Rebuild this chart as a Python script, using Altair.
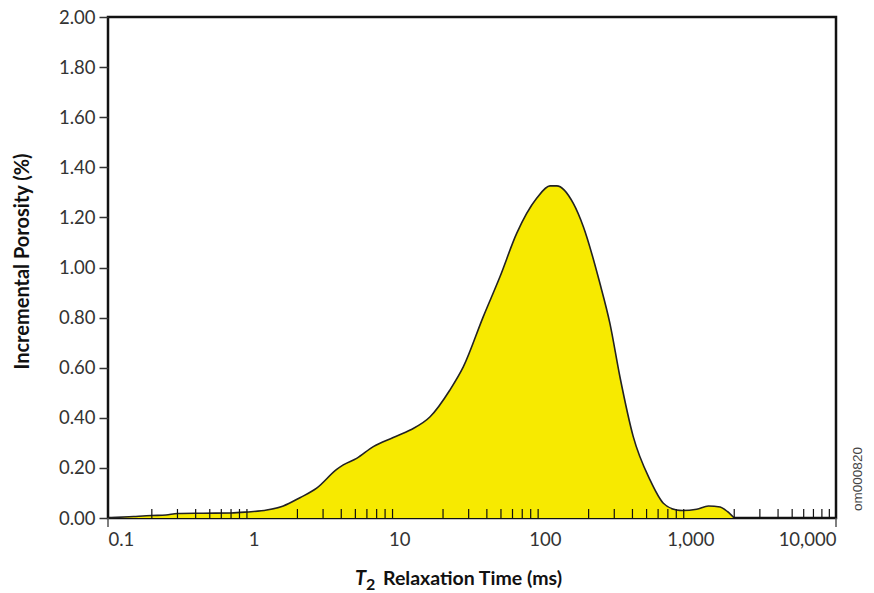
import altair as alt
import pandas as pd

# T2 relaxation time (ms) and incremental porosity (%)
t2_ms = [0.1, 0.15, 0.2, 0.25, 0.3, 0.45, 0.7, 0.9, 1.23, 1.6, 2.08, 2.71, 3.72, 4.13,
         5.1, 6.64, 9.1, 11.9, 16.3, 22.3, 27.6, 37.8, 49.2, 64.1, 87.9, 108.6, 120.7,
         157, 184, 239, 280, 328, 405, 528, 652, 805, 880, 1105, 1330, 1600, 1800, 2000]
porosity = [0.0, 0.006, 0.010, 0.012, 0.018, 0.019, 0.020, 0.024, 0.032, 0.048, 0.081,
            0.119, 0.194, 0.212, 0.238, 0.285, 0.321, 0.351, 0.404, 0.511, 0.604, 0.804,
            0.963, 1.136, 1.276, 1.326, 1.326, 1.256, 1.163, 0.937, 0.777, 0.564, 0.325,
            0.152, 0.059, 0.032, 0.030, 0.035, 0.048, 0.044, 0.025, 0.0]

major_ticks = [0.1, 1, 10, 100, 1000, 10000]
minor_ticks = [m * d for d in [0.1, 1, 10, 100, 1000] for m in range(2, 10)]
end_ticks = [0.1, 10000]
y_ticks = [0, 0.2, 0.4, 0.6, 0.8, 1.0, 1.2, 1.4, 1.6, 1.8, 2.0]

W, H = 728, 501
FONT = "Lato"

curve = pd.DataFrame({"t2": t2_ms, "por": porosity})
minor = pd.DataFrame({"t2": minor_ticks})
ends = pd.DataFrame({"t2": end_ticks})

x_scale = alt.Scale(type="log", domain=[0.1, 10000])
y_scale = alt.Scale(domain=[0, 2.0])

area = alt.Chart(curve).mark_area(
    color="#f7ea00", opacity=1, interpolate="monotone",
    line={"color": "#222222", "strokeWidth": 1.6}
).encode(
    x=alt.X("t2:Q", scale=x_scale, axis=alt.Axis(
        values=major_ticks, ticks=False, domain=False, grid=False,
        labelExpr="datum.value < 1 ? format(datum.value, '.1f') : format(datum.value, ',')",
        labelFont=FONT, labelFontSize=18.5, labelColor="#333333", labelPadding=12,
        title=None)),
    y=alt.Y("por:Q", scale=y_scale, axis=alt.Axis(
        values=y_ticks, format=".2f", grid=False, domain=False,
        tickSize=9, tickWidth=1.5, tickColor="#333333",
        labelFont=FONT, labelFontSize=18.5, labelColor="#333333", labelPadding=4,
        title="Incremental Porosity (%)", titleFont=FONT, titleFontSize=20,
        titleFontWeight="bold", titleColor="#111111", titleX=-76, titleY=244,
        titleBaseline="bottom")),
)

minor_rules = alt.Chart(minor).mark_rule(color="#111111", strokeWidth=1.2).encode(
    x=alt.X("t2:Q", scale=x_scale),
    y=alt.value(H),
    y2=alt.value(H - 9),
)

end_rules = alt.Chart(ends).mark_rule(color="#555555", strokeWidth=1.5, clip=False).encode(
    x=alt.X("t2:Q", scale=x_scale),
    y=alt.value(H),
    y2=alt.value(H + 9),
)

title_parts = pd.DataFrame({"txt": ["T", "2", "Relaxation Time (ms)"]})

t_letter = alt.Chart(title_parts.iloc[[0]]).mark_text(
    font=FONT, fontSize=20, fontWeight="bold", fontStyle="italic",
    align="left", baseline="alphabetic", color="#111111"
).encode(text="txt:N", x=alt.value(247), y=alt.value(568))

t_sub = alt.Chart(title_parts.iloc[[1]]).mark_text(
    font=FONT, fontSize=16, fontWeight="bold",
    align="left", baseline="alphabetic", color="#111111"
).encode(text="txt:N", x=alt.value(258), y=alt.value(573))

t_rest = alt.Chart(title_parts.iloc[[2]]).mark_text(
    font=FONT, fontSize=19.5, fontWeight="bold",
    align="left", baseline="alphabetic", color="#111111"
).encode(text="txt:N", x=alt.value(275), y=alt.value(568))

code_label = alt.Chart(pd.DataFrame({"txt": ["om000820"]})).mark_text(
    font="Liberation Sans", fontSize=13.5, angle=270, align="center",
    baseline="middle", color="#444444"
).encode(text="txt:N", x=alt.value(W + 22), y=alt.value(H - 39))

chart = alt.layer(
    area, minor_rules, end_rules, t_letter, t_sub, t_rest, code_label
).properties(
    width=W, height=H,
    autosize=alt.AutoSizeParams(type="none"),
    padding={"left": 100, "top": 9, "right": 30, "bottom": 75},
).configure_view(
    stroke="#111111", strokeWidth=2.5
)

chart.save("out.html", embed_options={"renderer": "svg", "actions": False})
